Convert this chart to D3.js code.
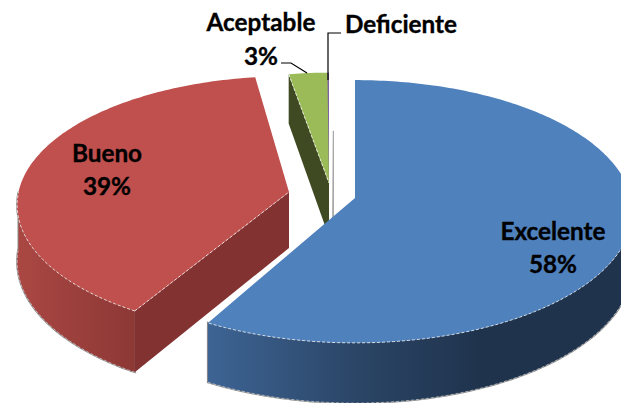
<!DOCTYPE html>
<html><head><meta charset="utf-8">
<script src="https://cdn.jsdelivr.net/npm/d3@7/dist/d3.min.js"></script>
<style>html,body{margin:0;padding:0;background:#fff}svg{display:block}text{font-family:Lato,"Open Sans",sans-serif;font-weight:700;fill:#000;stroke:#000;stroke-width:.35px}</style>
</head><body><svg id="c" width="621" height="403"></svg>
<script>
const categories = ["Excelente","Bueno","Aceptable","Deficiente"];
const values = [58.06, 39.08, 2.75, 0.11];
const faceColors = ["#4f81bd","#c0504d","#9bbb59","#8064a2"];
const cutColors = [null,"#833232","#3f4a22",null];

// layout: each exploded slice's apex, rotation, radius factor and wall height
const W=621,H=403, RX=276, RY=130, PERSP=0.1027;
const slices=[{ax:355,ay:198,rot:0,s:1,d:54},{ax:289,ay:192,rot:2.4*Math.PI/180,s:.98,d:56},{ax:329,ay:183,rot:0.4*Math.PI/180,s:.93,d:54},{ax:329,ay:183,rot:0,s:.93,d:54}];

const svg=d3.select("#c");
const defs=svg.append("defs");
function wallGrad(id,stops,x1,x2){const g=defs.append("linearGradient").attr("id",id).attr("gradientUnits","userSpaceOnUse").attr("x1",x1).attr("x2",x2).attr("y1",0).attr("y2",0);
 stops.forEach(s=>g.append("stop").attr("offset",s[0]).attr("stop-color",s[1]));}
wallGrad("gBlue",[[0,"#3d6494"],[.55,"#2b4566"],[1,"#1f334d"]],208,480);
wallGrad("gRed",[[0,"#aa4743"],[1,"#8c3835"]],18,136);
const soft=defs.append("filter").attr("id","soft").attr("x","-5%").attr("y","-5%").attr("width","110%").attr("height","110%");
soft.append("feGaussianBlur").attr("stdDeviation",.7);

const pie=d3.pie().sort(null).value(d=>d).startAngle(0).endAngle(2*Math.PI);
const arcs=pie(values);
const line=d3.line().x(d=>d[0]).y(d=>d[1]);
function proj(sl,r,t,below){
  const a=t+sl.rot,u=Math.sin(a)*r*sl.s,v=-Math.cos(a)*r*sl.s,f=1/(1-PERSP*v);
  return [sl.ax+RX*u*f, sl.ay+RY*v*f+(below?sl.d*f:0)];
}
function rim(sl,a0,a1,below){const n=Math.max(2,Math.ceil((a1-a0)*60));return d3.range(n+1).map(i=>proj(sl,1,a0+(a1-a0)*i/n,below));}

// soft grey edges left by the exploded slices
const G=slices[2], B=slices[0];
function shiftLine(p,dx,c,w){svg.append("path").attr("d",line(p.map(q=>[q[0]+dx,q[1]]))).attr("fill","none").attr("stroke",c).attr("stroke-width",w).attr("filter","url(#soft)");}
shiftLine([proj(G,.45,0,false),proj(G,0,0,true)],4,"#a8a8a8",2);

const order=[2,3,1,0];
order.forEach(i=>{
  const sl=slices[i],d=arcs[i],a0=d.startAngle,a1=d.endAngle;
  const g=svg.append("g").attr("class","slice");
  const lo=Math.max(a0,Math.PI/2-sl.rot),hi=Math.min(a1,3*Math.PI/2-sl.rot);
  if(hi>lo){
    const pts=rim(sl,lo,hi,false).concat(rim(sl,lo,hi,true).reverse());
    g.append("path").attr("d",line(pts)+"Z").attr("fill","none").attr("stroke","#8a8a8a").attr("stroke-width",2).attr("filter","url(#soft)");
    g.append("path").attr("d",line(pts)+"Z").attr("fill",i===0?"url(#gBlue)":"url(#gRed)");
    g.append("path").attr("d",line(rim(sl,lo,hi,true))).attr("fill","none").attr("stroke","#fff").attr("stroke-width",.8).attr("stroke-dasharray","3 2").attr("opacity",.6);
  }
  if(cutColors[i]){
    const pts=[proj(sl,1,a0,false),proj(sl,0,0,false),proj(sl,0,0,true),proj(sl,1,a0,true)];
    g.append("path").attr("d",line(pts)+"Z").attr("fill",cutColors[i]);
  }
  if(i===0){
    shiftLine([proj(B,.41,0,false),proj(B,0,0,false)],-1.5,"#b0b0b0",2);
    shiftLine([proj(B,.77,0,false),proj(B,.41,0,false)],-1.5,"#1f334d",2);
  }
  const face=[proj(sl,0,0,false)].concat(rim(sl,a0,a1,false));
  g.append("path").attr("d",line(face)+"Z").attr("fill",faceColors[i]);
  if(hi>lo) g.append("path").attr("d",line(rim(sl,lo,hi,false))).attr("fill","none").attr("stroke","#fff").attr("stroke-width",1).attr("stroke-dasharray","3 2").attr("opacity",.75);
  if(cutColors[i]) g.append("path").attr("d",line([proj(sl,1,a0,false),proj(sl,0,0,false)])).attr("fill","none").attr("stroke","#fff").attr("stroke-width",1).attr("stroke-dasharray","3 2").attr("opacity",.75);
});

// leader lines
const leaders=[[[281,63],[291,63],[307,73]],[[328,80],[328,33],[341,33]]];
leaders.forEach(p=>svg.append("path").attr("d",line(p)).attr("fill","none").attr("stroke","#000").attr("stroke-width",1.2));

// labels
const pct=v=>Math.round(v)+"%";
const labelPos=[{x:553,y:240,py:273,a:"middle"},{x:107,y:162,py:195,a:"middle"},{x:261,y:31,py:65,a:"middle"},{x:345,y:33,a:"start"}];
categories.forEach((c,i)=>{
  const p=labelPos[i];
  svg.append("text").attr("x",p.x).attr("y",p.y).attr("text-anchor",p.a).attr("font-size",24.3).text(c);
  if(p.py) svg.append("text").attr("x",p.x).attr("y",p.py).attr("text-anchor",p.a).attr("font-size",24.3).text(pct(values[i]));
});
</script></body></html>
